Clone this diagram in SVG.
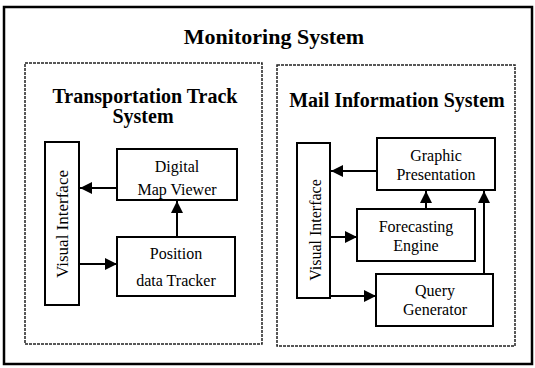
<svg xmlns="http://www.w3.org/2000/svg" width="535" height="368" viewBox="0 0 535 368">
<defs>
<marker id="ah" markerUnits="userSpaceOnUse" markerWidth="12" markerHeight="12" refX="12" refY="6" orient="auto">
<path d="M0,0 L12,6 L0,12 z" fill="#000"/>
</marker>
<style>
.frame{fill:none;stroke:#000;stroke-width:2.5}
.panel{fill:none;stroke:#222;stroke-width:1.5;stroke-dasharray:3 1}
.box{fill:#fff;stroke:#000;stroke-width:2}
.t{font-family:"Liberation Serif","Times New Roman",serif;fill:#000}
.h{font-weight:bold;text-anchor:middle}
.n{font-size:16px;text-anchor:middle}
.c{fill:none;stroke:#000;stroke-width:2;marker-end:url(#ah)}
</style>
</defs>
<rect width="535" height="368" fill="#fff"/>
<g id="monitoring-system">
<rect class="frame" x="4" y="7" width="528" height="357"/>
<text class="t h" x="274" y="44" font-size="22">Monitoring System</text>
</g>
<g id="transportation-track-system">
<rect class="panel" x="25" y="63" width="237" height="281"/>
<text class="t h" x="145" y="103" font-size="20">Transportation Track</text>
<text class="t h" x="143" y="123" font-size="20">System</text>
</g>
<g id="mail-information-system">
<rect class="panel" x="277" y="65" width="238" height="281"/>
<text class="t h" x="397" y="107" font-size="20">Mail Information System</text>
</g>
<g id="tts-visual-interface">
<rect class="box" x="45" y="142" width="34" height="163"/>
<text class="t" font-size="17" text-anchor="middle" transform="translate(68,224) rotate(-90)">Visual  Interface</text>
</g>
<g id="digital-map-viewer">
<rect class="box" x="117" y="149" width="120" height="51"/>
<text class="t n" x="177" y="172">Digital</text>
<text class="t n" x="177" y="195">Map Viewer</text>
</g>
<g id="position-data-tracker">
<rect class="box" x="117" y="237" width="118" height="59"/>
<text class="t n" x="176" y="259">Position</text>
<text class="t n" x="176" y="286">data Tracker</text>
</g>
<g id="mis-visual-interface">
<rect class="box" x="297" y="143" width="33" height="155"/>
<text class="t" font-size="16" text-anchor="middle" transform="translate(321,230) rotate(-90)">Visual  Interface</text>
</g>
<g id="graphic-presentation">
<rect class="box" x="377" y="138" width="118" height="52"/>
<text class="t n" x="436" y="161">Graphic</text>
<text class="t n" x="436" y="180">Presentation</text>
</g>
<g id="forecasting-engine">
<rect class="box" x="357" y="209" width="118" height="52"/>
<text class="t n" x="416" y="232">Forecasting</text>
<text class="t n" x="416" y="251">Engine</text>
</g>
<g id="query-generator">
<rect class="box" x="376" y="274" width="117" height="52"/>
<text class="t n" x="435" y="296">Query</text>
<text class="t n" x="435" y="315">Generator</text>
</g>
<g id="connectors">
<line class="c" x1="117" y1="188" x2="80" y2="188"/>
<line class="c" x1="177" y1="237" x2="177" y2="201"/>
<line class="c" x1="79" y1="264" x2="117" y2="264"/>
<line class="c" x1="377" y1="171" x2="331" y2="171"/>
<line class="c" x1="426" y1="209" x2="426" y2="191"/>
<line class="c" x1="330" y1="237" x2="357" y2="237"/>
<line class="c" x1="330" y1="296" x2="376" y2="296"/>
<line class="c" x1="484" y1="274" x2="484" y2="191"/>
</g>
</svg>
